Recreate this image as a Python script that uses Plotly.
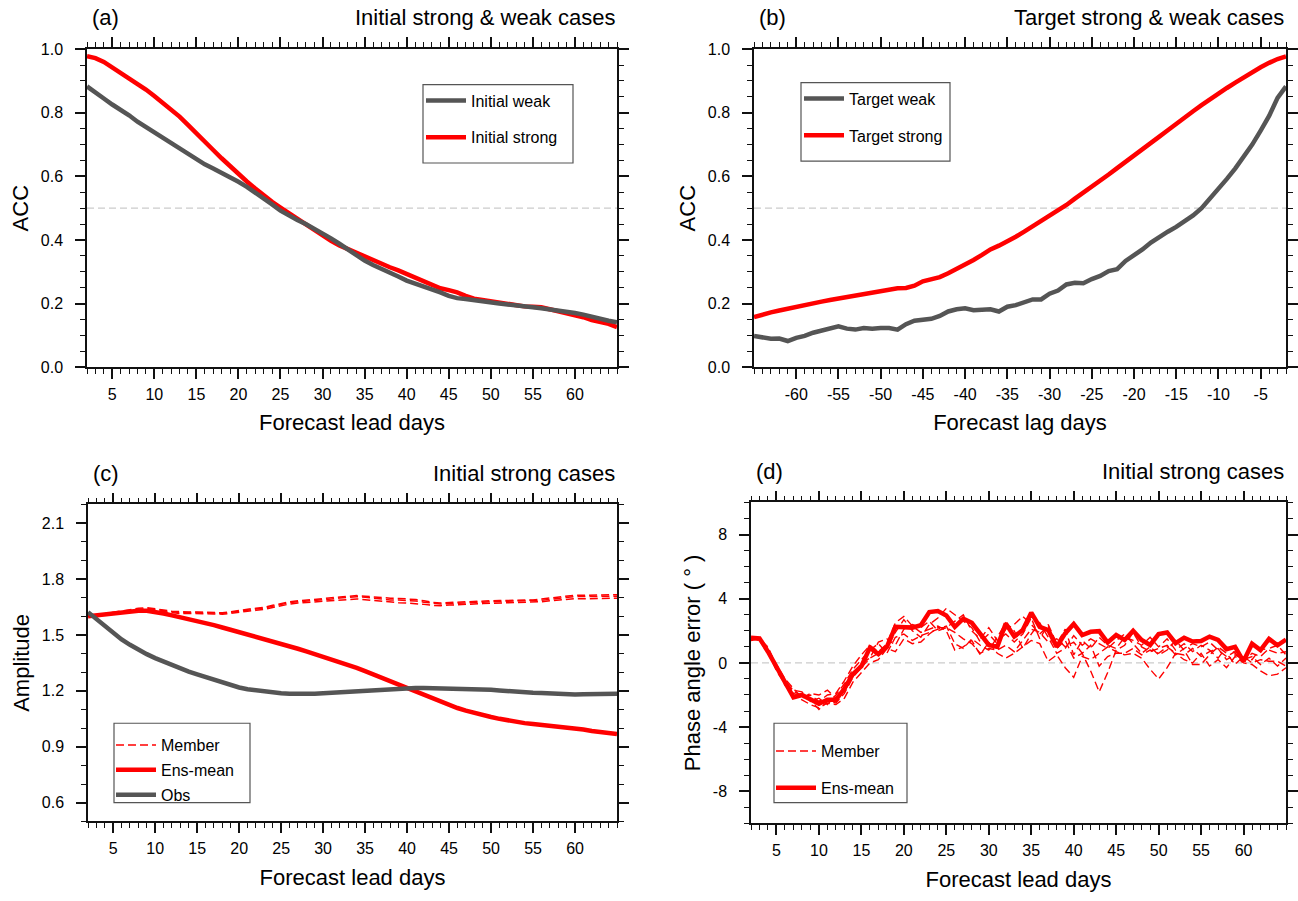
import plotly.graph_objects as go

# ---------------- data ----------------
LEAD_DAYS = list(range(2, 66))          # forecast lead days 2..65
LAG_DAYS = list(range(-65, -1))         # forecast lag days -65..-2

LEAD_TICKS = [5, 10, 15, 20, 25, 30, 35, 40, 45, 50, 55, 60]
LAG_TICKS = [-60, -55, -50, -45, -40, -35, -30, -25, -20, -15, -10, -5]
LAG_TICK_TEXT = ["-60", "-55", "-50", "-45", "-40", "-35", "-30", "-25", "-20", "-15", "-10", "-5"]
ACC_TICKS = [0.0, 0.2, 0.4, 0.6, 0.8, 1.0]
ACC_TICK_TEXT = ["0.0", "0.2", "0.4", "0.6", "0.8", "1.0"]
AMP_TICKS = [0.6, 0.9, 1.2, 1.5, 1.8, 2.1]
AMP_TICK_TEXT = ["0.6", "0.9", "1.2", "1.5", "1.8", "2.1"]
PHASE_TICKS = [-8, -4, 0, 4, 8]
PHASE_TICK_TEXT = ["-8", "-4", "0", "4", "8"]

ACC_REF = 0.5
PHASE_REF = 0.0

# (a) ACC vs lead day
acc_initial_weak = [
    0.883, 0.866, 0.845, 0.826, 0.810, 0.792, 0.772, 0.755, 0.737, 0.720,
    0.703, 0.686, 0.669, 0.652, 0.638, 0.625, 0.612, 0.598, 0.583, 0.567,
    0.550, 0.532, 0.512, 0.492, 0.476, 0.463, 0.450, 0.436, 0.421, 0.405,
    0.388, 0.370, 0.352, 0.335, 0.321, 0.310, 0.298, 0.285, 0.272, 0.263,
    0.256, 0.247, 0.235, 0.224, 0.217, 0.214, 0.210, 0.205, 0.202, 0.200,
    0.197, 0.195, 0.192, 0.188, 0.185, 0.182, 0.178, 0.174, 0.170, 0.165,
    0.158, 0.151, 0.146, 0.141]
acc_initial_strong = [
    0.978, 0.972, 0.960, 0.943, 0.927, 0.910, 0.893, 0.873, 0.853, 0.832,
    0.810, 0.788, 0.762, 0.737, 0.710, 0.683, 0.657, 0.631, 0.607, 0.584,
    0.562, 0.540, 0.520, 0.502, 0.484, 0.467, 0.450, 0.433, 0.414, 0.397,
    0.383, 0.371, 0.360, 0.348, 0.337, 0.325, 0.314, 0.304, 0.293, 0.280,
    0.268, 0.257, 0.248, 0.242, 0.235, 0.224, 0.215, 0.211, 0.207, 0.203,
    0.198, 0.195, 0.191, 0.190, 0.188, 0.182, 0.176, 0.170, 0.164, 0.157,
    0.148, 0.142, 0.136, 0.126]

# (b) ACC vs lag day
acc_target_weak = [
    0.098, 0.092, 0.089, 0.090, 0.082, 0.092, 0.098, 0.108, 0.115, 0.123,
    0.128, 0.121, 0.118, 0.123, 0.121, 0.123, 0.123, 0.118, 0.135, 0.146,
    0.149, 0.152, 0.161, 0.175, 0.182, 0.185, 0.179, 0.179, 0.182, 0.175,
    0.190, 0.195, 0.205, 0.213, 0.213, 0.231, 0.241, 0.260, 0.265, 0.264,
    0.277, 0.287, 0.302, 0.308, 0.334, 0.351, 0.370, 0.392, 0.410, 0.426,
    0.441, 0.457, 0.477, 0.500, 0.529, 0.560, 0.592, 0.625, 0.660, 0.700,
    0.744, 0.790, 0.847, 0.883]
acc_target_strong = [
    0.157, 0.166, 0.172, 0.178, 0.184, 0.190, 0.197, 0.201, 0.206, 0.211,
    0.216, 0.221, 0.226, 0.230, 0.234, 0.239, 0.244, 0.248, 0.249, 0.256,
    0.270, 0.276, 0.283, 0.295, 0.308, 0.322, 0.337, 0.353, 0.370, 0.382,
    0.395, 0.410, 0.426, 0.442, 0.458, 0.476, 0.493, 0.510, 0.530, 0.548,
    0.566, 0.586, 0.606, 0.626, 0.645, 0.665, 0.685, 0.705, 0.725, 0.745,
    0.766, 0.786, 0.805, 0.824, 0.843, 0.861, 0.878, 0.895, 0.912, 0.928,
    0.943, 0.957, 0.969, 0.977]

# (c) amplitude, initial strong cases
amp_member_1 = [
    1.600, 1.607, 1.615, 1.624, 1.632, 1.638, 1.643, 1.646, 1.642, 1.634,
    1.627, 1.624, 1.623, 1.623, 1.622, 1.620, 1.619, 1.624, 1.632, 1.638,
    1.643, 1.648, 1.659, 1.670, 1.678, 1.683, 1.686, 1.690, 1.694, 1.699,
    1.704, 1.709, 1.711, 1.708, 1.703, 1.699, 1.697, 1.696, 1.694, 1.690,
    1.683, 1.675, 1.672, 1.674, 1.677, 1.679, 1.680, 1.682, 1.684, 1.685,
    1.685, 1.685, 1.686, 1.688, 1.693, 1.699, 1.705, 1.710, 1.713, 1.713,
    1.713, 1.714, 1.715, 1.716]
amp_member_2 = [
    1.600, 1.602, 1.608, 1.615, 1.622, 1.628, 1.633, 1.635, 1.630, 1.623,
    1.617, 1.615, 1.616, 1.616, 1.615, 1.613, 1.611, 1.615, 1.623, 1.627,
    1.632, 1.637, 1.647, 1.658, 1.666, 1.671, 1.674, 1.678, 1.682, 1.686,
    1.689, 1.692, 1.693, 1.689, 1.684, 1.679, 1.676, 1.673, 1.671, 1.669,
    1.664, 1.659, 1.657, 1.660, 1.663, 1.665, 1.666, 1.668, 1.670, 1.671,
    1.671, 1.671, 1.672, 1.674, 1.678, 1.683, 1.688, 1.692, 1.695, 1.694,
    1.694, 1.695, 1.696, 1.697]
amp_member_3 = [
    1.600, 1.606, 1.613, 1.621, 1.628, 1.634, 1.639, 1.642, 1.636, 1.629,
    1.622, 1.619, 1.620, 1.621, 1.620, 1.618, 1.616, 1.621, 1.628, 1.634,
    1.639, 1.644, 1.654, 1.665, 1.673, 1.678, 1.681, 1.685, 1.689, 1.693,
    1.698, 1.703, 1.705, 1.702, 1.697, 1.692, 1.688, 1.687, 1.685, 1.682,
    1.676, 1.669, 1.666, 1.668, 1.671, 1.673, 1.674, 1.676, 1.678, 1.679,
    1.679, 1.679, 1.680, 1.682, 1.686, 1.691, 1.697, 1.702, 1.706, 1.706,
    1.706, 1.707, 1.707, 1.708]
amp_ens_mean = [
    1.600, 1.605, 1.611, 1.617, 1.622, 1.627, 1.630, 1.630, 1.624, 1.615,
    1.605, 1.595, 1.586, 1.577, 1.566, 1.553, 1.540, 1.528, 1.516, 1.503,
    1.490, 1.478, 1.466, 1.453, 1.440, 1.426, 1.412, 1.398, 1.384, 1.370,
    1.356, 1.340, 1.323, 1.306, 1.288, 1.270, 1.252, 1.234, 1.215, 1.195,
    1.175, 1.156, 1.138, 1.122, 1.108, 1.094, 1.081, 1.070, 1.060, 1.050,
    1.041, 1.033, 1.027, 1.022, 1.018, 1.014, 1.010, 1.005, 1.000, 0.993,
    0.985, 0.978, 0.973, 0.968]
amp_obs = [
    1.622, 1.585, 1.545, 1.507, 1.476, 1.447, 1.420, 1.397, 1.376, 1.357,
    1.338, 1.320, 1.303, 1.288, 1.273, 1.259, 1.245, 1.231, 1.218, 1.209,
    1.202, 1.196, 1.191, 1.187, 1.185, 1.184, 1.184, 1.185, 1.187, 1.190,
    1.193, 1.196, 1.198, 1.200, 1.203, 1.206, 1.209, 1.212, 1.215, 1.216,
    1.216, 1.215, 1.215, 1.215, 1.214, 1.213, 1.211, 1.209, 1.206, 1.202,
    1.198, 1.194, 1.192, 1.190, 1.188, 1.185, 1.182, 1.181, 1.181, 1.182,
    1.183, 1.184, 1.185, 1.185]

# (d) phase angle error, initial strong cases
phase_member_1 = [
    1.5, 1.4, 0.9, -0.2, -1.1, -1.8, -2.0, -2.3, -2.9, -2.4,
    -2.5, -1.9, -0.9, -0.3, 0.3, 0.6, 0.9, 1.9, 2.7, 2.0,
    1.6, 2.4, 2.8, 3.4, 3.0, 2.6, 2.2, 1.3, 1.8, 1.2,
    2.1, 2.4, 2.9, 2.4, 1.8, 2.3, 0.9, 1.4, 0.3, 0.6,
    -0.5, -1.8, -0.6, 0.8, 1.1, 1.9, 1.0, 0.7, 0.9, 1.1,
    0.5, 0.9, 1.2, 1.0, 1.3, 0.8, 0.4, 0.7, 0.3, 0.2,
    0.9, 0.8, 0.6, 0.7]
phase_member_2 = [
    1.5, 1.5, 0.7, -0.5, -1.3, -1.9, -2.1, -2.0, -2.4, -2.0,
    -1.9, -1.1, -0.2, 0.5, 1.1, 0.7, 1.2, 2.5, 2.9, 2.3,
    1.9, 2.1, 2.3, 2.0, 0.8, 1.0, 1.4, 0.5, 1.3, 0.6,
    0.3, 0.6, 1.0, 1.4, 1.2, 0.1, 0.5, -0.3, -0.9, 0.4,
    0.2, 0.6, 1.0, 0.7, 0.5, 0.6, 0.3, -0.4, -1.0, -0.3,
    0.6, 0.2, 0.0, 0.6, -0.2, 0.2, -0.3, 0.4, 0.0, -0.1,
    -0.5, -0.8, -0.7, -0.3]
phase_member_3 = [
    1.6, 1.4, 0.6, -0.4, -1.2, -1.7, -1.8, -2.4, -2.2, -2.6,
    -2.0, -1.3, -0.4, 0.2, 0.8, 1.2, 0.6, 1.6, 1.8, 1.4,
    1.7, 1.9, 2.1, 2.3, 1.2, 0.9, 1.5, 1.1, 0.8, 1.6,
    2.5, 2.0, 0.9, 1.8, 2.5, 1.6, 0.6, 0.9, 1.7, 1.1,
    1.5, 1.2, 0.9, 1.4, 1.8, 1.2, 0.6, 1.0, 0.5, 0.8,
    1.4, 0.8, -0.1, -0.1, 0.5, 1.0, 0.6, -0.1, 0.4, 0.0,
    0.2, 0.1, 0.1, -0.2]
phase_member_4 = [
    1.5, 1.6, 0.8, -0.1, -1.0, -1.6, -2.2, -1.9, -2.0, -1.7,
    -2.2, -1.8, -0.8, 0.0, 0.3, 1.3, 1.5, 1.1, 2.1, 2.4,
    2.2, 2.6, 2.0, 2.2, 2.6, 3.0, 2.0, 1.5, 2.2, 1.4,
    1.8, 1.3, 1.8, 2.8, 1.5, 2.4, 1.2, 2.1, 0.5, 1.4,
    0.9, 1.6, 1.1, 0.9, 1.6, 1.4, 1.1, 1.6, 1.0, 1.5,
    0.8, 1.2, 0.7, 1.1, 0.8, 0.3, 1.0, 0.6, 0.1, 0.6,
    0.4, 0.9, 1.1, 0.5]
phase_member_5 = [
    1.4, 1.5, 1.0, -0.2, -1.4, -2.0, -2.3, -2.6, -2.8, -2.5,
    -2.6, -2.2, -1.2, -0.6, 0.0, 0.2, 0.9, 0.7, 1.5, 1.2,
    1.3, 1.8, 2.2, 2.2, 1.9, 1.5, 1.2, 0.6, 0.9, 0.8,
    1.1, 0.7, 1.4, 2.1, 1.9, 1.3, 1.5, 1.0, 1.3, 0.6,
    1.1, -0.2, 0.4, 0.6, 0.6, 0.9, 0.5, 0.8, 0.6, 1.0,
    0.6, 0.5, 0.9, 0.4, 0.7, 0.9, 0.2, 0.5, 0.2, 0.4,
    -0.1, 0.3, -0.2, 0.3]
phase_ens_mean = [
    1.57, 1.53, 0.70, -0.30, -1.20, -2.15, -2.00, -2.25, -2.55, -2.30,
    -2.30, -1.60, -0.70, -0.20, 0.95, 0.55, 1.00, 2.25, 2.25, 2.20,
    2.35, 3.17, 3.23, 2.96, 2.25, 2.76, 2.50, 1.84, 1.12, 1.00,
    2.45, 1.64, 2.05, 3.13, 2.25, 2.05, 1.00, 1.84, 2.43, 1.74,
    1.94, 1.98, 1.27, 1.74, 1.43, 2.00, 1.43, 1.12, 1.80, 1.90,
    1.23, 1.57, 1.33, 1.37, 1.64, 1.43, 0.86, 1.00, 0.10, 1.20,
    0.80, 1.50, 1.10, 1.45]

# ---------------- style ----------------
FONT = "Liberation Sans, Arial, Helvetica, sans-serif"
RED = "#ff0000"
GRAY = "#555555"
AX = "#111111"
W, H = 1298, 901


def px_x(p):
    return p / W


def px_y(p):
    return 1 - p / H


fig = go.Figure()


def line(x, y, xa, ya, name, color, width, legend, rank, dash=None, show=True, group=None):
    fig.add_trace(go.Scatter(
        x=x, y=y, xaxis=xa, yaxis=ya, mode="lines", name=name,
        line=dict(color=color, width=width, dash=dash),
        legend=legend, legendrank=rank, showlegend=show,
        legendgroup=group or name, hoverinfo="x+y+name"))


# (a)
line(LEAD_DAYS, acc_initial_strong, "x", "y", "Initial strong", RED, 4.5, "legend", 2)
line(LEAD_DAYS, acc_initial_weak, "x", "y", "Initial weak", GRAY, 4.5, "legend", 1)
# (b)
line(LAG_DAYS, acc_target_strong, "x2", "y2", "Target strong", RED, 4.5, "legend2", 2)
line(LAG_DAYS, acc_target_weak, "x2", "y2", "Target weak", GRAY, 4.5, "legend2", 1)
# (c)
for i, m in enumerate([amp_member_1, amp_member_2, amp_member_3]):
    line(LEAD_DAYS, m, "x3", "y3", "Member", RED, 1.5, "legend3", 1,
         dash="8px,4px", show=(i == 0), group="c_member")
line(LEAD_DAYS, amp_ens_mean, "x3", "y3", "Ens-mean", RED, 4.5, "legend3", 2, group="c_ens")
line(LEAD_DAYS, amp_obs, "x3", "y3", "Obs", GRAY, 4.5, "legend3", 3, group="c_obs")
# (d)
for i, m in enumerate([phase_member_1, phase_member_2, phase_member_3, phase_member_4, phase_member_5]):
    line(LEAD_DAYS, m, "x4", "y4", "Member", RED, 1.4, "legend4", 1,
         dash="8px,4px", show=(i == 0), group="d_member")
line(LEAD_DAYS, phase_ens_mean, "x4", "y4", "Ens-mean", RED, 4.5, "legend4", 2, group="d_ens")

# ---------------- axes ----------------
PANELS = {
    1: dict(x=(87, 617), y=(42, 366)),
    2: dict(x=(754, 1286), y=(42, 366)),
    3: dict(x=(88, 617), y=(506, 829)),
    4: dict(x=(751, 1286), y=(504, 831)),
}


def common(minor_dtick, standoff):
    return dict(
        ticks="outside", ticklen=10, tickwidth=1.5, tickcolor=AX,
        showline=True, linewidth=1.5, linecolor=AX, mirror="ticks",
        showgrid=False, zeroline=False, fixedrange=True,
        minor=dict(tickmode="linear", tick0=0, dtick=minor_dtick, ticks="outside",
                   ticklen=5, tickwidth=1.2, tickcolor=AX, showgrid=False),
        tickfont=dict(size=16, color="black", family=FONT),
        ticklabelstandoff=standoff,
    )


title_font = dict(size=22, color="black", family=FONT)

axes = {}
xspec = {
    1: (LEAD_TICKS, [str(v) for v in LEAD_TICKS], [2, 65], "Forecast lead days"),
    2: (LAG_TICKS, LAG_TICK_TEXT, [-65, -2], "Forecast lag days"),
    3: (LEAD_TICKS, [str(v) for v in LEAD_TICKS], [2, 65], "Forecast lead days"),
    4: (LEAD_TICKS, [str(v) for v in LEAD_TICKS], [2, 65], "Forecast lead days"),
}
yspec = {
    1: (ACC_TICKS, ACC_TICK_TEXT, [0, 1], 0.05, "ACC"),
    2: (ACC_TICKS, ACC_TICK_TEXT, [0, 1], 0.05, "ACC"),
    3: (AMP_TICKS, AMP_TICK_TEXT, [0.5, 2.2], 0.1, "Amplitude"),
    4: (PHASE_TICKS, PHASE_TICK_TEXT, [-10, 10], 1, "Phase angle error ( ° )"),
}
for n, p in PANELS.items():
    sfx = "" if n == 1 else str(n)
    tv, tt, rng, ttl = xspec[n]
    xa = common(1, 2)
    xa.update(domain=[px_x(p["x"][0]), px_x(p["x"][1])], anchor="y" + sfx, range=rng,
              tickmode="array", tickvals=tv, ticktext=tt,
              title=dict(text=ttl, font=title_font, standoff=13))
    tv, tt, rng, mdt, ttl = yspec[n]
    ya = common(mdt, 9)
    ya.update(domain=[px_y(p["y"][1]), px_y(p["y"][0])], anchor="x" + sfx, range=rng,
              tickmode="array", tickvals=tv, ticktext=tt,
              title=dict(text=ttl, font=title_font, standoff=6))
    axes["xaxis" + sfx] = xa
    axes["yaxis" + sfx] = ya

# ---------------- reference lines ----------------
shapes = []
for n, yv in [(1, ACC_REF), (2, ACC_REF), (4, PHASE_REF)]:
    sfx = "" if n == 1 else str(n)
    shapes.append(dict(type="line", xref=f"x{sfx} domain", x0=0, x1=1, yref=f"y{sfx}",
                       y0=yv, y1=yv, layer="below",
                       line=dict(color="#cccccc", width=1.2, dash="7px,4px")))

# legend frames (pixel boxes)
LEGEND_BOX = {
    "legend": (423, 78, 573, 158),
    "legend2": (801, 76, 950, 156),
    "legend3": (114, 729, 250, 810),
    "legend4": (774, 729, 907, 810),
}
for key, (x0, y0, x1, y1) in LEGEND_BOX.items():
    shapes.append(dict(type="rect", xref="paper", yref="paper",
                       x0=px_x(x0), x1=px_x(x1), y0=px_y(y1), y1=px_y(y0),
                       line=dict(color="#555555", width=1.2), fillcolor="white", layer="below"))

legend_common = dict(bgcolor="rgba(0,0,0,0)", borderwidth=0, xanchor="left", yanchor="top",
                     font=dict(size=16, color="black", family=FONT), itemwidth=40,
                     traceorder="grouped")
legends = {
    "legend": dict(x=px_x(421), y=px_y(77), tracegroupgap=13),
    "legend2": dict(x=px_x(799), y=px_y(75), tracegroupgap=13),
    "legend3": dict(x=px_x(111), y=px_y(734), tracegroupgap=1),
    "legend4": dict(x=px_x(771), y=px_y(740), tracegroupgap=13),
}
for k in legends:
    legends[k].update(legend_common)

# ---------------- panel titles ----------------
annotations = []
TITLES = {
    1: ("(a)", "Initial strong & weak cases"),
    2: ("(b)", "Target strong & weak cases"),
    3: ("(c)", "Initial strong cases"),
    4: ("(d)", "Initial strong cases"),
}
for n, (lab, ttl) in TITLES.items():
    sfx = "" if n == 1 else str(n)
    p = PANELS[n]
    hgt = p["y"][1] - p["y"][0]
    ty = p["y"][0] - 32  # centre of title text in px
    ydom = (p["y"][1] - ty) / hgt
    annotations.append(dict(text=lab, xref=f"x{sfx} domain", yref=f"y{sfx} domain",
                            x=0.006, y=ydom, xanchor="left", yanchor="middle", showarrow=False,
                            font=dict(size=22, color="black", family=FONT)))
    annotations.append(dict(text=ttl, xref=f"x{sfx} domain", yref=f"y{sfx} domain",
                            x=1.0, y=ydom, xanchor="right", yanchor="middle", showarrow=False,
                            font=dict(size=22, color="black", family=FONT)))

fig.update_layout(
    width=W, height=H, margin=dict(l=0, r=0, t=0, b=0),
    paper_bgcolor="white", plot_bgcolor="white",
    font=dict(family=FONT, color="black"),
    showlegend=True, shapes=shapes, annotations=annotations,
    **axes, **legends,
)

fig.write_html("out.html", config={"displayModeBar": False},
               post_script="document.body.style.margin='0';document.body.style.overflow='hidden';")
